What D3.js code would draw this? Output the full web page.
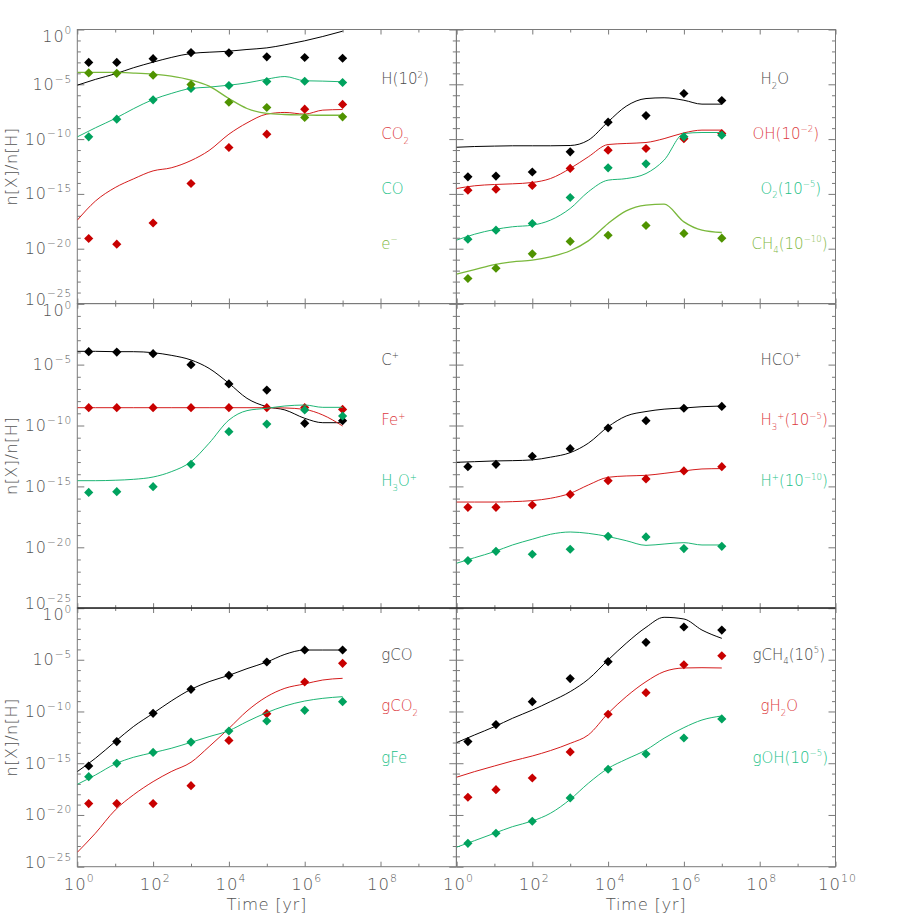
<!DOCTYPE html>
<html>
<head>
<meta charset="utf-8">
<script src="https://cdn.jsdelivr.net/npm/d3@7"></script>
<style>
  body { margin: 0; background: #fff; }
  svg { display: block; }
  text { font-family: "DejaVu Sans", sans-serif; font-weight: 200; }
</style>
</head>
<body>
<svg width="913" height="913"></svg>
<script>
// Epochs
const obsTimes = [2, 11, 100, 1e3, 1e4, 1e5, 1e6, 1e7]
const modTimes = [1, 3, 10, 30, 100, 300, 1e3, 3e3, 1e4, 3e4, 1e5, 3e5, 1e6, 3e6, 1e7]

// Ticks
const yTicks = [1, 1e-5, 1e-10, 1e-15, 1e-20, 1e-25]
const xTicksLeft = [1, 1e2, 1e4, 1e6, 1e8]
const xTicksRight = [1, 1e2, 1e4, 1e6, 1e8, 1e10]

// Top left
const H_mod = [8.3e-6, 2.8e-5, 9e-5, 3.2e-4, 1.05e-3, 2.8e-3, 6.5e-3, 8.5e-3, 1.05e-2, 1.5e-2, 2.1e-2, 4e-2, 9.3e-2, 0.23, 0.7]
const H_obs = [1e-3, 1e-3, 2.2e-3, 7.9e-3, 7.4e-3, 3.2e-3, 2.8e-3, 2.4e-3]
const CO2_mod = [4e-18, 2.2e-16, 3.8e-15, 2.3e-14, 1.26e-13, 2.4e-13, 1.1e-12, 9.1e-12, 2.8e-10, 3e-9, 1.9e-8, 2.7e-8, 1.9e-8, 4.4e-8, 5e-8]
const CO2_obs = [8.5e-20, 2.6e-20, 2.2e-18, 8.9e-15, 1.7e-11, 2.8e-10, 5.4e-8, 1.45e-7]
const CO_mod = [1.6e-10, 1.07e-9, 7.6e-9, 5.8e-8, 4.1e-7, 1.45e-6, 4.2e-6, 5.5e-6, 8.3e-6, 1.35e-5, 2.95e-5, 5.1e-5, 2.1e-5, 1.95e-5, 1.7e-5]
const CO_obs = [1.6e-10, 6.6e-9, 3.8e-7, 4.2e-6, 7.8e-6, 1.8e-5, 1.9e-5, 1.45e-5]
const e_mod = [1.2e-4, 1.2e-4, 1.2e-4, 1.05e-4, 8.3e-5, 5.5e-5, 2.4e-5, 6.8e-6, 5e-7, 6.2e-8, 2.2e-8, 1.75e-8, 1.6e-8, 1.5e-8, 1.5e-8]
const e_obs = [1.1e-4, 1.0e-4, 6.8e-5, 9.5e-6, 2.3e-7, 7.6e-8, 9.3e-9, 1.07e-8]

// Top right
const H2O_mod = [1.8e-11, 2.1e-11, 2.3e-11, 2.45e-11, 2.45e-11, 2.45e-11, 2.6e-11, 7.9e-11, 3.8e-9, 1e-7, 5e-7, 5.9e-7, 3.5e-7, 1.55e-7, 1.55e-7]
const H2O_obs = [3.6e-14, 4.2e-14, 1.0e-13, 6.9e-12, 3.5e-9, 1.4e-8, 1.45e-6, 3.3e-7]
const OH_mod = [3.1e-15, 5.5e-15, 7.2e-15, 8.3e-15, 1.1e-14, 2.5e-14, 2.1e-13, 2.4e-12, 3.2e-11, 4e-11, 4.9e-11, 1.1e-10, 3.7e-10, 6.6e-10, 6.6e-10]
const OH_obs = [2.2e-15, 2.7e-15, 5.9e-15, 2.1e-13, 9.8e-12, 1.4e-11, 1.1e-10, 3.2e-10]
const O2_mod = [6e-20, 2.1e-19, 5.6e-19, 1e-18, 1.4e-18, 4e-18, 4.7e-17, 1.55e-15, 1.8e-14, 2.5e-14, 7.2e-14, 1.2e-12, 3.2e-10, 4e-10, 4e-10]
const O2_obs = [7.4e-20, 4.9e-19, 2e-18, 4.7e-16, 2.4e-13, 5.5e-13, 1.6e-10, 2.3e-10]
const CH4_mod = [4.8e-23, 1.26e-22, 3.6e-22, 6.3e-22, 8.9e-22, 1.8e-21, 6.5e-21, 5.2e-20, 2e-18, 2.8e-17, 9.3e-17, 1.15e-16, 2.8e-18, 4.9e-19, 3e-19]
const CH4_obs = [1.9e-23, 1.66e-22, 3.4e-21, 4.6e-20, 1.7e-19, 1.3e-18, 2.5e-19, 9.1e-20]

// Middle left
const Cp_mod = [1.23e-4, 1.23e-4, 1.15e-4, 1.15e-4, 9.5e-5, 5.8e-5, 2.4e-5, 4.9e-6, 2.9e-7, 1.7e-8, 3.5e-9, 1.9e-9, 3.9e-10, 1.7e-10, 1.7e-10]
const Cp_obs = [1.15e-4, 1.07e-4, 7.9e-5, 9.8e-6, 2.6e-7, 8.1e-8, 1.5e-10, 2.5e-10]
const Fep_mod = [2.9e-9, 2.9e-9, 2.9e-9, 2.9e-9, 2.9e-9, 2.9e-9, 2.9e-9, 2.9e-9, 2.9e-9, 2.9e-9, 2.9e-9, 2.75e-9, 2.1e-9, 7.3e-10, 9.1e-11]
const Fep_obs = [2.9e-9, 2.9e-9, 2.9e-9, 2.9e-9, 2.9e-9, 2.9e-9, 3e-9, 2.1e-9]
const H3Op_mod = [2.95e-15, 2.95e-15, 3.2e-15, 3.8e-15, 5.9e-15, 1.6e-14, 1.07e-13, 3.5e-12, 2.8e-10, 1.66e-9, 2.6e-9, 4e-9, 4.8e-9, 3.1e-9, 3.1e-9]
const H3Op_obs = [3.2e-16, 3.7e-16, 9.5e-16, 6.5e-14, 3.1e-11, 1.3e-10, 1.9e-9, 6e-10]

// Middle right
const HCOp_mod = [9.5e-14, 1.07e-13, 1.23e-13, 1.3e-13, 1.5e-13, 2.5e-13, 5.9e-13, 3.5e-12, 7.9e-11, 6e-10, 1.4e-9, 2.2e-9, 2.75e-9, 3.5e-9, 4e-9]
const HCOp_obs = [4.2e-14, 6.5e-14, 3e-13, 1.26e-12, 6.2e-11, 2.5e-10, 2.6e-9, 3.7e-9]
const H3p_mod = [5.2e-17, 5.2e-17, 5.2e-17, 5.6e-17, 6.8e-17, 1.05e-16, 2.7e-16, 1.3e-15, 5.6e-15, 7.2e-15, 8.1e-15, 1.17e-14, 1.86e-14, 2.7e-14, 2.9e-14]
const H3p_obs = [1.9e-17, 1.9e-17, 2.95e-17, 2.2e-16, 2.95e-15, 4.1e-15, 1.86e-14, 4.2e-14]
const Hp_mod = [4.9e-22, 1.4e-21, 4.4e-21, 1.55e-20, 4.6e-20, 1.17e-19, 1.8e-19, 1.4e-19, 7.6e-20, 3.5e-20, 1.45e-20, 1.86e-20, 2.4e-20, 1.55e-20, 1.55e-20]
const Hp_obs = [8.1e-22, 4.7e-21, 2.7e-21, 6.9e-21, 7.9e-20, 7.1e-20, 7.8e-21, 1.2e-20]

// Bottom left
const gCO_mod = [1.55e-16, 3e-15, 1.23e-13, 3.4e-12, 6.6e-11, 1.02e-9, 1.38e-8, 7.6e-8, 3.1e-7, 1.38e-6, 6e-6, 3.3e-5, 8.7e-5, 8.7e-5, 8.7e-5]
const gCO_obs = [5.4e-16, 1.23e-13, 6.6e-11, 1.38e-8, 3.1e-7, 6e-6, 8.7e-5, 8.7e-5]
const gCO2_mod = [2.45e-24, 1.7e-22, 3e-20, 8.5e-19, 1.66e-17, 1.55e-16, 1.23e-15, 4e-14, 2.3e-12, 1.1e-10, 2.7e-9, 1.74e-8, 4.6e-8, 1.1e-7, 1.6e-7]
const gCO2_obs = [1.26e-19, 1.26e-19, 1.26e-19, 6.8e-18, 1.6e-13, 6.2e-11, 7.1e-8, 4.5e-6]
const gFe_mod = [9.1e-18, 7.2e-17, 8.5e-16, 3.7e-15, 1.05e-14, 2.75e-14, 1.05e-13, 3.7e-13, 1.4e-12, 1.05e-11, 7.8e-11, 3.4e-10, 1.02e-9, 1.86e-9, 2.7e-9]
const gFe_obs = [5e-17, 9.8e-16, 1.1e-14, 1.1e-13, 1.3e-12, 1.2e-11, 1.3e-10, 8.9e-10]

// Bottom right
const gCH4_mod = [9.8e-14, 5.4e-13, 3.4e-12, 2.2e-11, 1.38e-10, 8.9e-10, 8.3e-9, 1.3e-7, 9.5e-6, 3.9e-4, 1.35e-2, 0.126, 8.7e-2, 7.4e-3, 1.17e-3]
const gCH4_obs = [1.23e-13, 5.4e-12, 8.9e-10, 1.5e-7, 6.5e-6, 4.8e-4, 1.45e-2, 7.4e-3]
const gH2O_mod = [4.4e-17, 1.55e-16, 5.4e-16, 1.66e-15, 5e-15, 1.66e-14, 8.3e-14, 5.4e-13, 6.6e-11, 2.7e-9, 7.6e-8, 7.1e-7, 1.6e-6, 1.7e-6, 1.6e-6]
const gH2O_obs = [5.1e-19, 2.8e-18, 3.7e-17, 1.23e-14, 5.4e-11, 6.6e-9, 3.3e-6, 2.45e-5]
const gOH_mod = [7.6e-24, 3.3e-23, 1.7e-22, 7.4e-22, 2.6e-21, 1.45e-20, 3.2e-19, 1.15e-17, 3.2e-16, 2.4e-15, 1.9e-14, 2.6e-13, 2.75e-12, 1.5e-11, 3.7e-11]
const gOH_obs = [1.8e-23, 1.7e-22, 2.45e-21, 4.4e-19, 2.6e-16, 7.8e-15, 2.75e-13, 1.9e-11]

// Colores
const colors = {
  black: {line: '#000000', dot: '#000000', text: '#4a4a4a'},
  red:   {line: '#d41c1c', dot: '#c80000', text: '#dc3a40'},
  green: {line: '#1db574', dot: '#00a25e', text: '#22bf88'},
  olive: {line: '#7ab83c', dot: '#4f9300', text: '#7fb844'}
}

// Layout
const colX = [77.3, 456.5]
const colW = 379
const rowY = [29.5, 303.7, 608]
const rowH = [274, 304.5, 258.7]
const axisColor = '#7a7a7a'
const tickText = '#555555'

const panels = [
  {row: 0, col: 0, series: [
    {label: 'H(10^{2})', mod: H_mod, obs: H_obs, c: 'black', lx: 304},
    {label: 'CO_{2}', mod: CO2_mod, obs: CO2_obs, c: 'red', lx: 304},
    {label: 'CO', mod: CO_mod, obs: CO_obs, c: 'green', lx: 304},
    {label: 'e^{−}', mod: e_mod, obs: e_obs, c: 'olive', lx: 304}]},
  {row: 0, col: 1, series: [
    {label: 'H_{2}O', mod: H2O_mod, obs: H2O_obs, c: 'black', lx: 304},
    {label: 'OH(10^{−2})', mod: OH_mod, obs: OH_obs, c: 'red', lx: 296},
    {label: 'O_{2}(10^{−5})', mod: O2_mod, obs: O2_obs, c: 'green', lx: 304},
    {label: 'CH_{4}(10^{−10})', mod: CH4_mod, obs: CH4_obs, c: 'olive', lx: 295}]},
  {row: 1, col: 0, series: [
    {label: 'C^{+}', mod: Cp_mod, obs: Cp_obs, c: 'black', lx: 304},
    {label: 'Fe^{+}', mod: Fep_mod, obs: Fep_obs, c: 'red', lx: 304},
    {label: 'H_{3}O^{+}', mod: H3Op_mod, obs: H3Op_obs, c: 'green', lx: 304}]},
  {row: 1, col: 1, series: [
    {label: 'HCO^{+}', mod: HCOp_mod, obs: HCOp_obs, c: 'black', lx: 304},
    {label: 'H_{3}^{+}(10^{−5})', mod: H3p_mod, obs: H3p_obs, c: 'red', lx: 304},
    {label: 'H^{+}(10^{−10})', mod: Hp_mod, obs: Hp_obs, c: 'green', lx: 304}]},
  {row: 2, col: 0, series: [
    {label: 'gCO', mod: gCO_mod, obs: gCO_obs, c: 'black', lx: 304},
    {label: 'gCO_{2}', mod: gCO2_mod, obs: gCO2_obs, c: 'red', lx: 304},
    {label: 'gFe', mod: gFe_mod, obs: gFe_obs, c: 'green', lx: 304}]},
  {row: 2, col: 1, series: [
    {label: 'gCH_{4}(10^{5})', mod: gCH4_mod, obs: gCH4_obs, c: 'black', lx: 296},
    {label: 'gH_{2}O', mod: gH2O_mod, obs: gH2O_obs, c: 'red', lx: 304},
    {label: 'gOH(10^{−5})', mod: gOH_mod, obs: gOH_obs, c: 'green', lx: 296}]}
]

const svg = d3.select('svg')

// texto con super/subíndices: ^{..} y _{..}
function rich(sel, str, size, small) {
  const re = /(\^|_)\{([^}]*)\}|([^\^_]+)/g
  let m, shift = 0
  while ((m = re.exec(str))) {
    const t = sel.append('tspan')
    if (m[3] !== undefined) {
      t.text(m[3]).attr('font-size', size).attr('dy', -shift)
      shift = 0
    } else {
      const s = m[1] === '^' ? -size * 0.45 : size * 0.3
      t.text(m[2]).attr('font-size', size * small).attr('dy', s - shift)
      shift = s
    }
  }
  return sel
}

const diamond = d3.symbol(d3.symbolSquare, 42)

panels.forEach((p, i) => {
  const x0 = colX[p.col], y0 = rowY[p.row], h = rowH[p.row]
  const x = d3.scaleLog([1, 1e10], [0, colW])
  const y = d3.scaleLog([1e-25, 1], [h, 0])

  const g = svg.append('g').attr('transform', `translate(${x0},${y0})`)

  g.append('clipPath').attr('id', 'clip' + i)
    .append('rect').attr('width', colW).attr('height', h)

  // ticks
  const decades = d3.range(0, 11).map(k => 10 ** k)
  const evenX = decades.filter((d, k) => k % 2 === 0)
  const oddX = decades.filter((d, k) => k % 2 === 1)
  const yDec = d3.range(0, 26).map(k => 10 ** -k)
  const minorY = yDec.filter((d, k) => k % 5 !== 0)

  const axes = [
    [d3.axisBottom(x).tickValues(evenX).tickSize(-5), `translate(0,${h})`],
    [d3.axisBottom(x).tickValues(oddX).tickSize(-3), `translate(0,${h})`],
    [d3.axisTop(x).tickValues(evenX).tickSize(-5), null],
    [d3.axisTop(x).tickValues(oddX).tickSize(-3), null],
    [d3.axisLeft(y).tickValues(yTicks).tickSize(-7), null],
    [d3.axisLeft(y).tickValues(minorY).tickSize(-3.5), null],
    [d3.axisRight(y).tickValues(yTicks).tickSize(-7), `translate(${colW},0)`],
    [d3.axisRight(y).tickValues(minorY).tickSize(-3.5), `translate(${colW},0)`]
  ]
  axes.forEach(([ax, tr]) => {
    const a = g.append('g').attr('color', axisColor).call(ax.tickFormat(''))
    if (tr) a.attr('transform', tr)
    a.select('.domain').remove()
  })

  g.append('rect').attr('width', colW).attr('height', h)
    .attr('fill', 'none').attr('stroke', axisColor).attr('stroke-width', 1)

  const plot = g.append('g').attr('clip-path', `url(#clip${i})`)

  const line = d3.line()
    .x((d, k) => x(modTimes[k]))
    .y(d => y(d))
    .curve(d3.curveMonotoneX)

  p.series.forEach((s, k) => {
    const c = colors[s.c]
    plot.append('path')
      .attr('d', line(s.mod))
      .attr('fill', 'none')
      .attr('stroke', c.line)
      .attr('stroke-width', s.c === 'olive' ? 1.3 : 1)

    plot.selectAll(null)
      .data(s.obs)
      .join('path')
        .attr('d', diamond)
        .attr('transform', (d, j) => `translate(${x(obsTimes[j])},${y(d)}) rotate(45)`)
        .attr('fill', c.dot)

    const t = g.append('text')
      .attr('x', s.lx)
      .attr('y', y(yTicks[k + 1]))
      .attr('fill', c.text)
    rich(t, s.label, 15, 0.57)
  })

  // etiquetas eje y
  if (p.col === 0) {
    yTicks.forEach((v, k) => {
      const off = k === 0 ? 12 : (k === yTicks.length - 1 ? 1 : 5.5)
      const t = g.append('text')
        .attr('x', -5)
        .attr('y', y(v) + off)
        .attr('text-anchor', 'end')
        .attr('fill', tickText)
        .attr('letter-spacing', 1)
      const e = Math.round(Math.log10(v))
      rich(t, `10^{${e === 0 ? '0' : '−' + (-e)}}`, 16, 0.66)
    })
    g.append('text')
      .attr('transform', `translate(${17 - x0},${h / 2}) rotate(-90)`)
      .attr('text-anchor', 'middle')
      .attr('fill', tickText)
      .attr('font-size', 16)
      .attr('letter-spacing', 0.5)
      .text('n[X]/n[H]')
  }

  // etiquetas eje x
  if (p.row === 2) {
    const ticks = p.col === 0 ? xTicksLeft : xTicksRight
    ticks.forEach(v => {
      const e = Math.round(Math.log10(v))
      const t = g.append('text')
        .attr('x', x(v) + 2)
        .attr('y', h + 23)
        .attr('text-anchor', 'middle')
        .attr('fill', tickText)
        .attr('letter-spacing', 1)
      rich(t, `10^{${e}}`, 16.5, 0.66)
    })
    g.append('text')
      .attr('x', colW / 2)
      .attr('y', h + 43)
      .attr('text-anchor', 'middle')
      .attr('fill', tickText)
      .attr('font-size', 16.5)
      .attr('letter-spacing', 0.6)
      .text('Time [yr]')
  }
})

// borde superior de la fila inferior
svg.append('line')
  .attr('x1', colX[0]).attr('x2', colX[1] + colW)
  .attr('y1', rowY[2]).attr('y2', rowY[2])
  .attr('stroke', '#000')
</script>
</body>
</html>
